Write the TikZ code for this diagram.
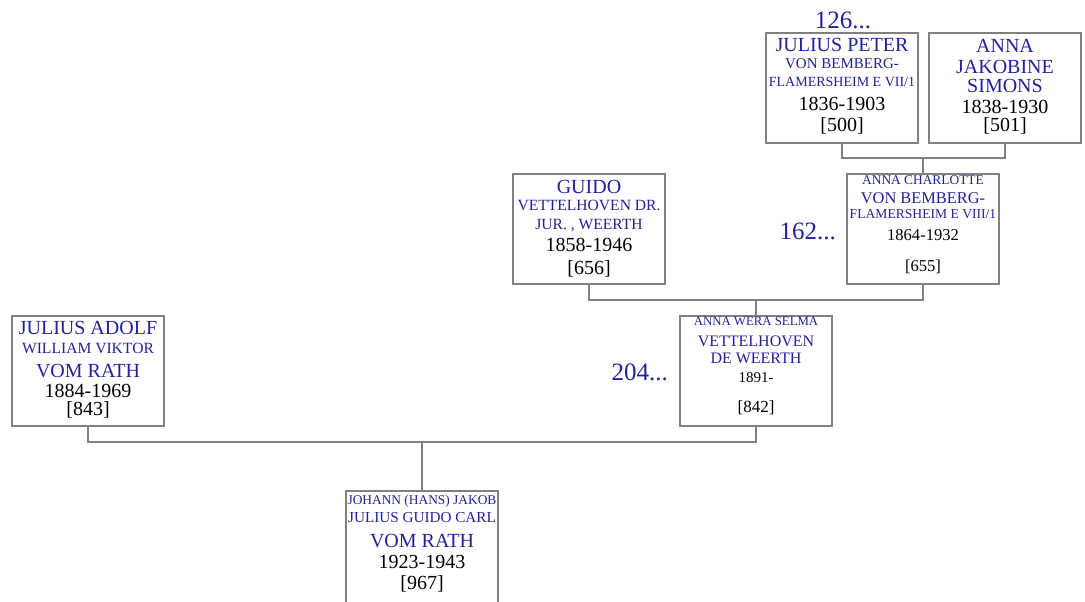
\documentclass[tikz,border=0pt]{standalone}
\usepackage{fontspec}
\setmainfont{Liberation Serif}
\usepackage{tikz}
\usetikzlibrary{calc}
\definecolor{nameblue}{RGB}{34,34,154}
\definecolor{linegray}{RGB}{128,128,128}
% line sizes
\newcommand{\nmL}{\fontsize{10}{10}\selectfont}
\newcommand{\nmM}{\fontsize{7.8}{10}\selectfont}
\newcommand{\nmS}{\fontsize{6.7}{10}\selectfont}
\newcommand{\yrS}{\fontsize{8.3}{10}\selectfont}
\lineskiplimit=-20pt

\begin{document}
\begin{tikzpicture}[x=0.5pt, y=-0.5pt,
		box/.style 2 args={draw=linegray, line width=0.6pt, inner sep=0pt, outer sep=0pt,
			minimum width=76pt, anchor=north west, align=center, text height=#1, text depth=#2,
			font=\fontsize{10}{10}\selectfont},
		link/.style={draw=linegray, line width=0.6pt},
		gen/.style={text=nameblue, font=\fontsize{12.5}{14}\selectfont}]
		\useasboundingbox (0,0) rectangle (1085,601);
		% generation 1
		\node[box={49pt}{6pt}] (p500) at (766,33) {{\color{nameblue}\nmL JULIUS PETER}\\[-1.5pt]{\color{nameblue}\fontsize{7.5}{10}\selectfont VON BEMBERG-}\\[-1pt]{\color{nameblue}\fontsize{7}{10}\selectfont FLAMERSHEIM E VII/1}\\[2pt]1836-1903\\[0.5pt]{[500]}};
		\node[box={49pt}{6pt}] (p501) at (929,33) {{\color{nameblue}\nmL ANNA}\\[0.5pt]{\color{nameblue}\nmL JAKOBINE}\\[-0.5pt]{\color{nameblue}\nmL SIMONS}\\[0.5pt]1838-1930\\[-1pt]{[501]}};
		\node[gen, anchor=base] (g126) at (843,28) {126...};
		% generation 2
		\node[box={50pt}{5pt}] (p656) at (513,174) {{\color{nameblue}\nmL GUIDO}\\[-1.5pt]{\color{nameblue}\nmM VETTELHOVEN DR.}\\[-0.5pt]{\color{nameblue}\nmM JUR. , WEERTH}\\[1pt]1858-1946\\[1.5pt]{[656]}};
		\node[box={48.5pt}{6.5pt}] (p655) at (847,174) {{\color{nameblue}\nmS ANNA CHARLOTTE}\\[-0.5pt]{\color{nameblue}\fontsize{8.2}{10}\selectfont VON BEMBERG-}\\[-2.5pt]{\color{nameblue}\fontsize{6.8}{10}\selectfont FLAMERSHEIM E VIII/1}\\[1pt]{\yrS 1864-1932}\\[5.5pt]{\yrS [655]}};
		\node[gen, anchor=base east] (g162) at (843,239) {162...};
		% generation 3
		\node[box={49.5pt}{5.5pt}] (p843) at (12,316) {{\color{nameblue}\nmL JULIUS ADOLF}\\[-0.5pt]{\color{nameblue}\nmM WILLIAM VIKTOR}\\[2pt]{\color{nameblue}\nmL VOM RATH}\\1884-1969\\[-1pt]{[843]}};
		\node[box={48pt}{7pt}] (p842) at (680,316) {{\color{nameblue}\fontsize{6.4}{10}\selectfont ANNA WERA SELMA}\\[0.5pt]{\color{nameblue}\fontsize{8}{10}\selectfont VETTELHOVEN}\\[-1.5pt]{\color{nameblue}\fontsize{8}{10}\selectfont DE WEERTH}\\[-0.5pt]{\fontsize{7.5}{10}\selectfont 1891-}\\[5pt]{\fontsize{8.5}{10}\selectfont [842]}};
		\node[gen, anchor=base east] (g204) at (675,380) {204...};
		% generation 4
		\node[box={49pt}{8pt}] (p967) at (346,491) {{\color{nameblue}\nmS JOHANN (HANS) JAKOB}\\[-1pt]{\color{nameblue}\fontsize{7.6}{10}\selectfont JULIUS GUIDO CARL}\\[2.5pt]{\color{nameblue}\nmL VOM RATH}\\[0.5pt]1923-1943\\[0.5pt]{[967]}};
		% connectors
		\draw[link] (p500.south) -- ++(0,15) coordinate (j500) -| (p501.south);
		\draw[link] (p655.north) -- (p655.north |- j500);
		\draw[link] (p656.south) -- ++(0,16) coordinate (j656) -| (p655.south);
		\draw[link] (p842.north) -- (p842.north |- j656);
		\draw[link] (p843.south) -- ++(0,16) coordinate (j843) -| (p842.south);
		\draw[link] (p967.north) -- (p967.north |- j843);
	\end{tikzpicture}
\end{document}
